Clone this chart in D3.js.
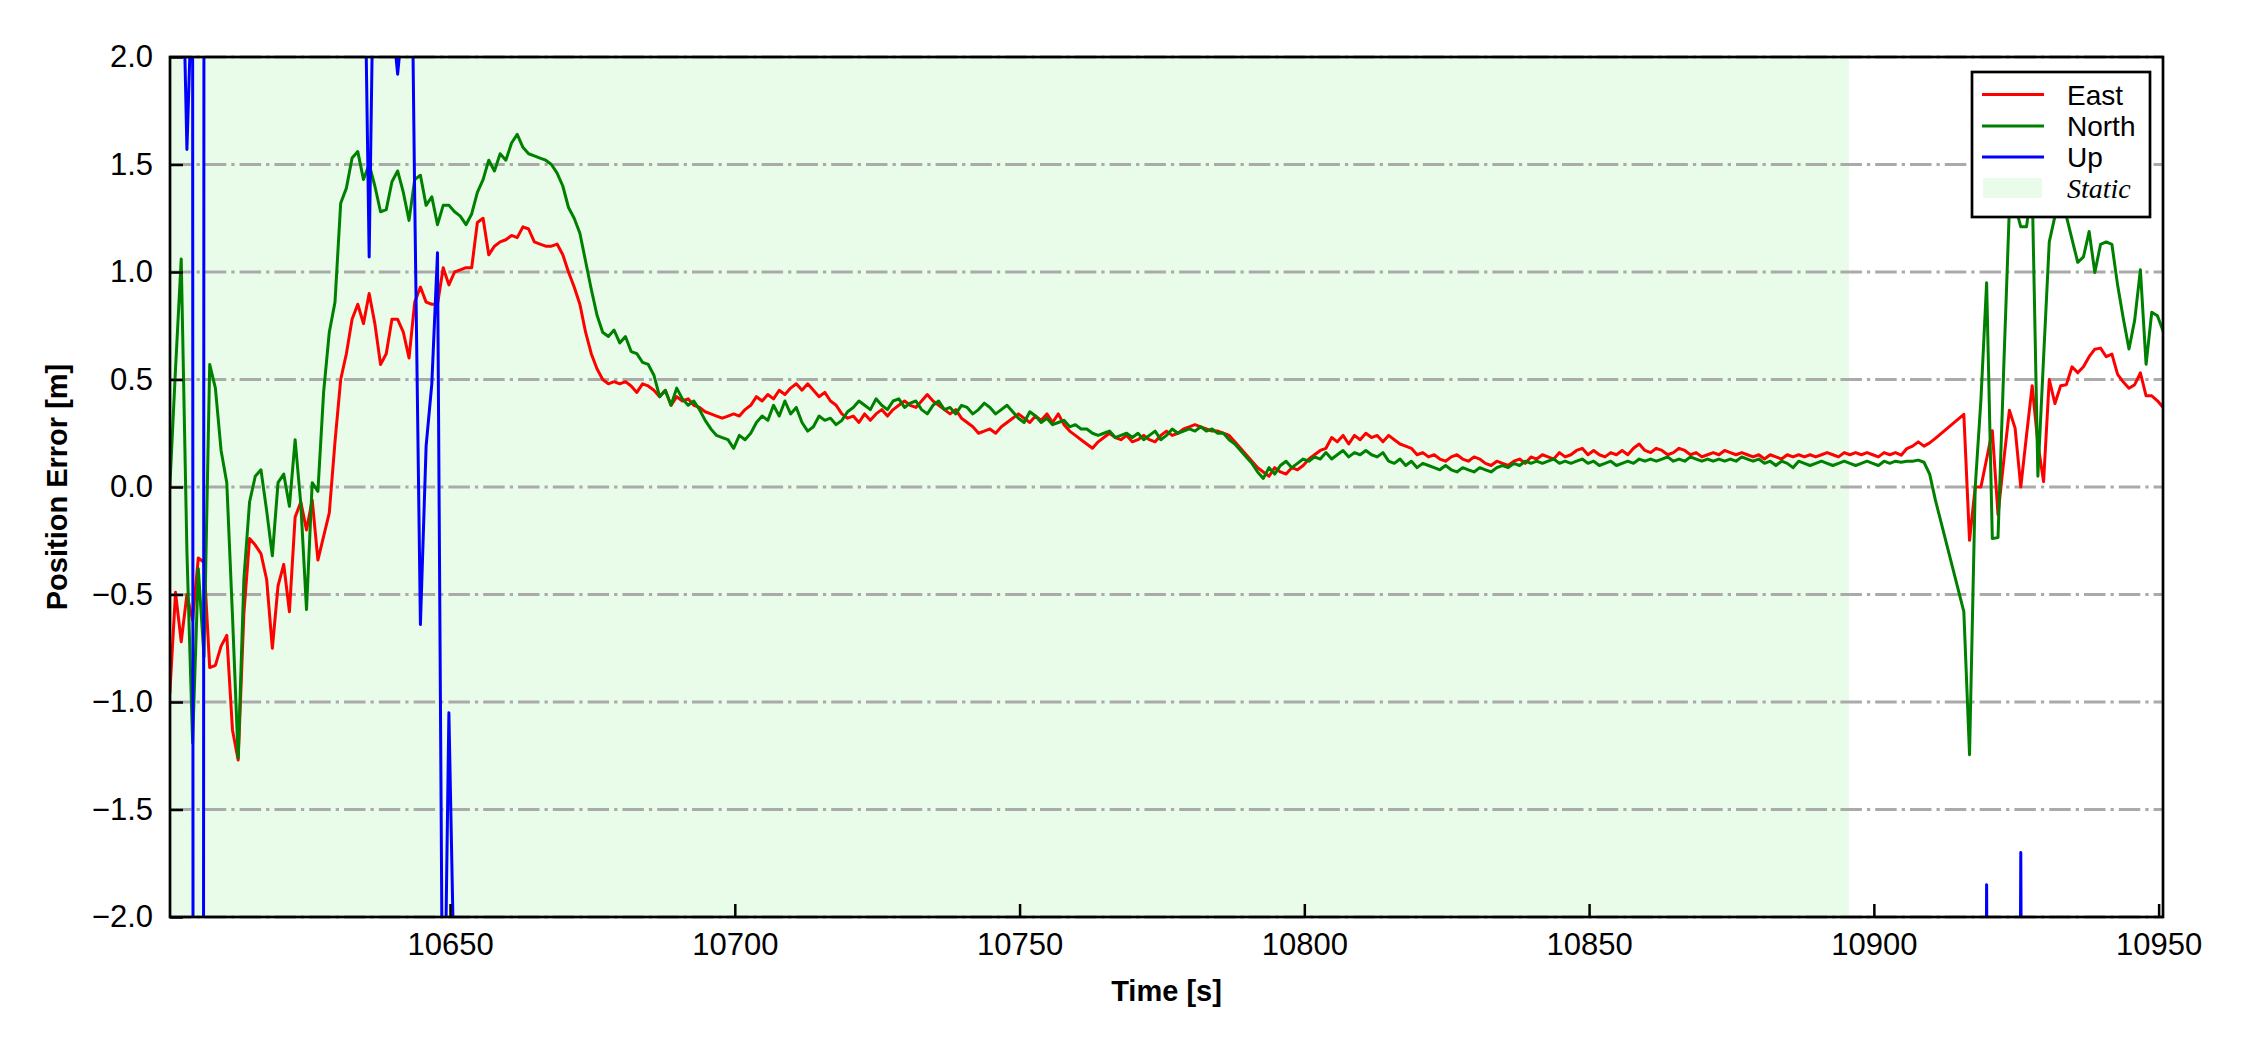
<!DOCTYPE html>
<html><head><meta charset="utf-8">
<script src="https://cdn.jsdelivr.net/npm/d3@7"></script>
<style>body{margin:0;background:#fff}svg{display:block}</style>
</head><body><svg id="c" width="2250" height="1050"></svg>
<script>
// ---------------- data (1 Hz epochs; gap 10911-10915) ----------------
const time = [
10600.8,10601.8,10602.8,10603.8,10604.8,10605.8,10606.8,10607.8,10608.8,10609.8,
10610.8,10611.8,10612.8,10613.8,10614.8,10615.8,10616.8,10617.8,10618.8,10619.8,
10620.8,10621.8,10622.8,10623.8,10624.8,10625.8,10626.8,10627.8,10628.8,10629.8,
10630.8,10631.8,10632.8,10633.8,10634.8,10635.8,10636.8,10637.8,10638.8,10639.8,
10640.8,10641.8,10642.8,10643.8,10644.8,10645.8,10646.8,10647.8,10648.8,10649.8,
10650.8,10651.8,10652.8,10653.8,10654.8,10655.8,10656.8,10657.8,10658.8,10659.8,
10660.8,10661.8,10662.8,10663.8,10664.8,10665.8,10666.8,10667.8,10668.8,10669.8,
10670.8,10671.8,10672.8,10673.8,10674.8,10675.8,10676.8,10677.8,10678.8,10679.8,
10680.8,10681.8,10682.8,10683.8,10684.8,10685.8,10686.8,10687.8,10688.8,10689.8,
10690.8,10691.8,10692.8,10693.8,10694.8,10695.8,10696.8,10697.8,10698.8,10699.8,
10700.8,10701.8,10702.8,10703.8,10704.8,10705.8,10706.8,10707.8,10708.8,10709.8,
10710.8,10711.8,10712.8,10713.8,10714.8,10715.8,10716.8,10717.8,10718.8,10719.8,
10720.8,10721.8,10722.8,10723.8,10724.8,10725.8,10726.8,10727.8,10728.8,10729.8,
10730.8,10731.8,10732.8,10733.8,10734.8,10735.8,10736.8,10737.8,10738.8,10739.8,
10740.8,10741.8,10742.8,10743.8,10744.8,10745.8,10746.8,10747.8,10748.8,10749.8,
10750.8,10751.8,10752.8,10753.8,10754.8,10755.8,10756.8,10757.8,10758.8,10759.8,
10760.8,10761.8,10762.8,10763.8,10764.8,10765.8,10766.8,10767.8,10768.8,10769.8,
10770.8,10771.8,10772.8,10773.8,10774.8,10775.8,10776.8,10777.8,10778.8,10779.8,
10780.8,10781.8,10782.8,10783.8,10784.8,10785.8,10786.8,10787.8,10788.8,10789.8,
10790.8,10791.8,10792.8,10793.8,10794.8,10795.8,10796.8,10797.8,10798.8,10799.8,
10800.8,10801.8,10802.8,10803.8,10804.8,10805.8,10806.8,10807.8,10808.8,10809.8,
10810.8,10811.8,10812.8,10813.8,10814.8,10815.8,10816.8,10817.8,10818.8,10819.8,
10820.8,10821.8,10822.8,10823.8,10824.8,10825.8,10826.8,10827.8,10828.8,10829.8,
10830.8,10831.8,10832.8,10833.8,10834.8,10835.8,10836.8,10837.8,10838.8,10839.8,
10840.8,10841.8,10842.8,10843.8,10844.8,10845.8,10846.8,10847.8,10848.8,10849.8,
10850.8,10851.8,10852.8,10853.8,10854.8,10855.8,10856.8,10857.8,10858.8,10859.8,
10860.8,10861.8,10862.8,10863.8,10864.8,10865.8,10866.8,10867.8,10868.8,10869.8,
10870.8,10871.8,10872.8,10873.8,10874.8,10875.8,10876.8,10877.8,10878.8,10879.8,
10880.8,10881.8,10882.8,10883.8,10884.8,10885.8,10886.8,10887.8,10888.8,10889.8,
10890.8,10891.8,10892.8,10893.8,10894.8,10895.8,10896.8,10897.8,10898.8,10899.8,
10900.8,10901.8,10902.8,10903.8,10904.8,10905.8,10906.8,10907.8,10908.8,10909.8,
10910.8,
10915.8,10916.8,10917.8,10918.8,10919.8,10920.8,10921.8,10922.8,10923.8,10924.8,
10925.8,10926.8,10927.8,10928.8,10929.8,10930.8,10931.8,10932.8,10933.8,10934.8,
10935.8,10936.8,10937.8,10938.8,10939.8,10940.8,10941.8,10942.8,10943.8,10944.8,
10945.8,10946.8,10947.8,10948.8,10949.8,10950.8];

const east = [
-0.96,-0.49,-0.72,-0.50,-0.62,-0.33,-0.35,-0.84,-0.83,-0.74,
-0.69,-1.13,-1.27,-0.59,-0.24,-0.27,-0.31,-0.43,-0.75,-0.46,
-0.36,-0.58,-0.14,-0.07,-0.20,-0.06,-0.34,-0.23,-0.12,0.21,
0.50,0.62,0.78,0.85,0.76,0.90,0.76,0.57,0.62,0.78,
0.78,0.72,0.60,0.86,0.93,0.86,0.85,0.85,1.02,0.94,
1.00,1.01,1.02,1.02,1.23,1.25,1.08,1.12,1.14,1.15,
1.17,1.16,1.21,1.20,1.14,1.13,1.12,1.12,1.13,1.08,
1.00,0.93,0.85,0.72,0.62,0.55,0.50,0.48,0.49,0.48,
0.49,0.47,0.44,0.48,0.47,0.45,0.42,0.45,0.38,0.42,
0.40,0.41,0.38,0.37,0.35,0.34,0.33,0.32,0.33,0.34,
0.33,0.36,0.38,0.42,0.40,0.43,0.41,0.45,0.43,0.46,
0.48,0.45,0.48,0.45,0.42,0.44,0.40,0.38,0.34,0.32,
0.33,0.30,0.34,0.31,0.34,0.36,0.33,0.36,0.38,0.40,
0.38,0.37,0.40,0.43,0.40,0.38,0.36,0.34,0.36,0.32,
0.30,0.28,0.25,0.26,0.27,0.25,0.28,0.30,0.32,0.34,
0.32,0.30,0.33,0.31,0.34,0.30,0.34,0.29,0.26,0.24,
0.22,0.20,0.18,0.21,0.23,0.25,0.23,0.22,0.24,0.21,
0.22,0.24,0.22,0.21,0.24,0.26,0.24,0.25,0.27,0.28,
0.29,0.28,0.27,0.26,0.26,0.25,0.24,0.21,0.18,0.15,
0.12,0.09,0.07,0.05,0.09,0.07,0.06,0.09,0.08,0.10,
0.13,0.15,0.17,0.18,0.23,0.21,0.24,0.20,0.24,0.22,
0.25,0.23,0.24,0.21,0.24,0.22,0.20,0.19,0.18,0.15,
0.16,0.14,0.15,0.13,0.12,0.14,0.15,0.13,0.12,0.14,
0.13,0.11,0.10,0.12,0.11,0.10,0.12,0.13,0.11,0.14,
0.13,0.15,0.14,0.13,0.16,0.14,0.15,0.17,0.18,0.15,
0.17,0.15,0.14,0.16,0.15,0.17,0.15,0.18,0.20,0.17,
0.16,0.18,0.17,0.15,0.16,0.18,0.17,0.15,0.16,0.14,
0.15,0.16,0.15,0.17,0.16,0.15,0.16,0.15,0.14,0.15,
0.13,0.15,0.14,0.13,0.15,0.14,0.15,0.14,0.15,0.14,
0.15,0.16,0.15,0.14,0.16,0.15,0.16,0.15,0.16,0.15,
0.14,0.16,0.15,0.16,0.148,0.179,0.19,0.21,0.19,0.205,
0.226,
0.338,-0.248,0.0,0.0,0.13,0.262,-0.129,0.12,0.357,0.274,
0.0,0.239,0.471,0.203,0.025,0.5,0.388,0.471,0.476,0.559,
0.531,0.559,0.606,0.641,0.646,0.606,0.618,0.524,0.488,0.459,
0.476,0.531,0.424,0.424,0.401,0.37];

const north = [
0.00,0.55,1.06,-0.30,-1.19,-0.38,-0.79,0.57,0.46,0.17,
0.02,-0.60,-1.26,-0.43,-0.07,0.05,0.08,-0.11,-0.32,0.02,
0.06,-0.09,0.22,-0.08,-0.57,0.02,-0.02,0.44,0.72,0.86,
1.32,1.39,1.53,1.56,1.43,1.50,1.40,1.28,1.29,1.42,
1.47,1.37,1.24,1.43,1.45,1.31,1.35,1.22,1.31,1.31,
1.28,1.26,1.22,1.27,1.37,1.43,1.52,1.47,1.55,1.52,
1.60,1.64,1.58,1.55,1.54,1.53,1.52,1.50,1.46,1.40,
1.30,1.25,1.18,1.05,0.92,0.80,0.72,0.70,0.73,0.67,
0.70,0.63,0.62,0.58,0.57,0.52,0.42,0.45,0.38,0.46,
0.41,0.38,0.40,0.36,0.31,0.27,0.24,0.23,0.22,0.18,
0.24,0.22,0.25,0.30,0.33,0.31,0.38,0.33,0.40,0.34,
0.37,0.30,0.26,0.28,0.33,0.31,0.32,0.29,0.31,0.35,
0.37,0.40,0.38,0.36,0.41,0.38,0.36,0.40,0.41,0.37,
0.39,0.40,0.36,0.34,0.38,0.40,0.36,0.37,0.34,0.38,
0.37,0.34,0.36,0.39,0.37,0.34,0.36,0.38,0.35,0.32,
0.30,0.35,0.33,0.30,0.32,0.29,0.30,0.31,0.28,0.29,
0.27,0.27,0.25,0.24,0.25,0.26,0.23,0.24,0.25,0.23,
0.25,0.22,0.24,0.26,0.22,0.24,0.27,0.25,0.26,0.27,
0.26,0.28,0.26,0.27,0.25,0.25,0.22,0.20,0.17,0.14,
0.11,0.07,0.04,0.09,0.06,0.10,0.12,0.09,0.11,0.13,
0.12,0.14,0.13,0.16,0.13,0.15,0.17,0.14,0.16,0.15,
0.17,0.15,0.14,0.16,0.12,0.11,0.13,0.10,0.12,0.09,
0.11,0.10,0.09,0.08,0.10,0.08,0.07,0.09,0.08,0.07,
0.09,0.08,0.07,0.09,0.10,0.09,0.11,0.10,0.12,0.11,
0.12,0.11,0.12,0.13,0.11,0.12,0.11,0.12,0.13,0.11,
0.12,0.10,0.11,0.12,0.10,0.11,0.12,0.11,0.13,0.12,
0.13,0.12,0.13,0.14,0.12,0.13,0.12,0.14,0.13,0.12,
0.13,0.12,0.13,0.12,0.13,0.12,0.14,0.13,0.12,0.13,
0.11,0.12,0.10,0.12,0.11,0.09,0.12,0.11,0.10,0.11,
0.12,0.11,0.10,0.11,0.12,0.11,0.10,0.11,0.12,0.11,
0.10,0.12,0.11,0.12,0.115,0.12,0.12,0.125,0.115,0.06,
-0.06,
-0.58,-1.245,0.0,0.405,0.95,-0.24,-0.235,0.55,1.30,1.31,
1.21,1.21,1.40,0.05,0.6,1.14,1.26,1.35,1.26,1.152,
1.045,1.07,1.188,0.998,1.128,1.14,1.128,0.939,0.784,0.642,
0.776,1.01,0.571,0.813,0.796,0.725];

const upTime = [
10600.8,10601.8,10602.8,10603.8,10604.8,10605.8,10606.8,10612.8,10620.8,10628.8,
10634.8,10635.8,10636.8,10638.8,10639.8,10640.8,10641.8,10642.8,10643.8,10644.8,
10645.8,10646.8,10647.8,10648.8,10649.8,10650.8,10660.8,10700.8,10750.8,10800.8,
10850.8,10900.8,10910.8,10915.8,10918.8,10919.8,10920.8,10924.8,10925.8,10926.8,
10935.8,10950.8];
const up = [
2.6,2.9,2.8,1.57,2.42,-60,3.0,3.4,3.1,3.3,
2.9,1.07,2.9,3.0,2.2,1.92,2.2,3.6,1.34,-0.64,
0.19,0.48,1.09,-2.98,-1.05,-2.4,-3.5,-4.0,-3.8,-4.2,
-3.9,-4.1,-4.0,-5.0,-8.0,-1.85,-8.0,-8.0,-1.70,-8.0,
-5.0,-4.0];

const staticSpan = [10600.8, 10895.65];
const xTicks = [10650,10700,10750,10800,10850,10900,10950];
const yTicks = [-2.0,-1.5,-1.0,-0.5,0.0,0.5,1.0,1.5,2.0];
const legendLabels = ["East","North","Up","Static"];
const seriesColors = ["#ff0000","#008000","#0000ff"];
const staticColor = "#e9fce9";

// ---------------- drawing ----------------
const svg = d3.select("#c");
const L = 170, R = 2163, T = 57, B = 917;
const x = d3.scaleLinear().domain([10600.83, 10950.77]).range([L, R]);
const y = d3.scaleLinear().domain([-2, 2]).range([B, T]);
const FONT = "'Liberation Sans', Arial, Helvetica, sans-serif";

svg.append("rect").attr("width",2250).attr("height",1050).attr("fill","#fff");

svg.append("defs").append("clipPath").attr("id","plotclip")
  .append("rect").attr("x",L).attr("y",T).attr("width",R-L).attr("height",B-T);

// static span
svg.append("rect")
  .attr("x", x(staticSpan[0])).attr("y", T)
  .attr("width", x(staticSpan[1]) - x(staticSpan[0])).attr("height", B - T)
  .attr("fill", staticColor).attr("clip-path","url(#plotclip)");

// grid
svg.append("g").selectAll("line").data(yTicks).join("line")
  .attr("x1", L).attr("x2", R).attr("y1", d => y(d)).attr("y2", d => y(d))
  .attr("stroke", "#aaaaaa").attr("stroke-width", 3)
  .attr("stroke-dasharray", "21.5,5,3.3,5");

// lines
const lineGen = (ts, vs) => d3.line().x((d,i) => x(ts[i])).y(d => y(d))(vs);
const gLines = svg.append("g").attr("clip-path","url(#plotclip)");
gLines.append("path").attr("d", lineGen(time, east)).attr("fill","none")
  .attr("stroke", seriesColors[0]).attr("stroke-width", 3).attr("stroke-linejoin","round");
gLines.append("path").attr("d", lineGen(time, north)).attr("fill","none")
  .attr("stroke", seriesColors[1]).attr("stroke-width", 3).attr("stroke-linejoin","round");
gLines.append("path").attr("d", lineGen(upTime, up)).attr("fill","none")
  .attr("stroke", seriesColors[2]).attr("stroke-width", 3).attr("stroke-linejoin","round");

// axes
const xAxis = d3.axisBottom(x).tickValues(xTicks).tickFormat(d3.format("d"))
  .tickSizeInner(-13).tickSizeOuter(0).tickPadding(16);
const gx = svg.append("g").attr("transform", `translate(0,${B})`).call(xAxis);
gx.select(".domain").remove();
gx.selectAll("line").attr("stroke","#000").attr("stroke-width",2.5);
gx.selectAll("text").attr("font-family",FONT).attr("font-size",31).attr("fill","#000");

const yAxis = d3.axisLeft(y).tickValues(yTicks).tickFormat(d3.format(".1f"))
  .tickSizeInner(-13).tickSizeOuter(0).tickPadding(17);
const gy = svg.append("g").attr("transform", `translate(${L},0)`).call(yAxis);
gy.select(".domain").remove();
gy.selectAll("line").attr("stroke","#000").attr("stroke-width",2.5);
gy.selectAll("text").attr("font-family",FONT).attr("font-size",31).attr("fill","#000");

// spines
svg.append("rect").attr("x",L).attr("y",T).attr("width",R-L).attr("height",B-T)
  .attr("fill","none").attr("stroke","#000").attr("stroke-width",2.7);

// axis labels
svg.append("text").attr("x",(L+R)/2).attr("y",1001).attr("text-anchor","middle")
  .attr("font-family",FONT).attr("font-weight","bold").attr("font-size",29).text("Time [s]");
svg.append("text").attr("transform",`translate(67,${(T+B)/2}) rotate(-90)`)
  .attr("text-anchor","middle").attr("font-family",FONT).attr("font-weight","bold")
  .attr("font-size",29).text("Position Error [m]");

// legend
const lg = svg.append("g");
lg.append("rect").attr("x",1972).attr("y",72).attr("width",178).attr("height",145)
  .attr("fill","#fff").attr("stroke","#000").attr("stroke-width",2.7);
const rowY = [94.5, 126, 157, 188];
seriesColors.forEach((c,i) => {
  lg.append("line").attr("x1",1982).attr("x2",2044).attr("y1",rowY[i]).attr("y2",rowY[i])
    .attr("stroke",c).attr("stroke-width",3);
});
lg.append("rect").attr("x",1983).attr("y",178).attr("width",59).attr("height",20).attr("fill",staticColor);
legendLabels.forEach((t,i) => {
  const el = lg.append("text").attr("x",2067).attr("y",rowY[i]+10).attr("font-size",28).text(t);
  if (t === "Static") el.attr("font-family","'Liberation Serif','Times New Roman',serif").attr("font-style","italic");
  else el.attr("font-family",FONT);
});
</script></body></html>
